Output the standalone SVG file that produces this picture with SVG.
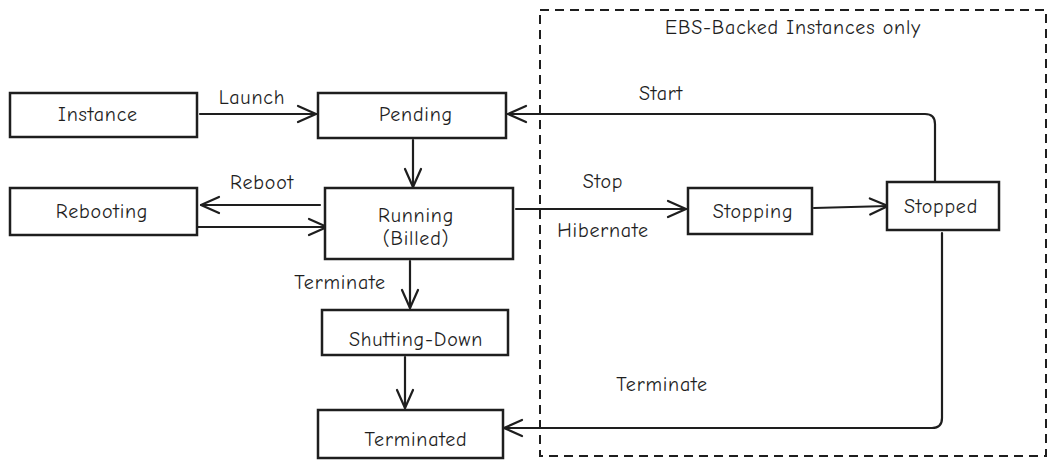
<svg xmlns="http://www.w3.org/2000/svg" width="1057" height="468" viewBox="0 0 1057 468">
<defs>
<style>
.node rect{fill:#fff;stroke:#1e1e1e;stroke-width:2.5}
text{font-family:"Comic Neue","Liberation Sans",sans-serif;font-size:20px;letter-spacing:0.8px;fill:#1e1e1e;text-anchor:middle;dominant-baseline:central}
.edge{fill:none;stroke:#1e1e1e;stroke-width:2.2;stroke-linecap:round;stroke-linejoin:round}
.frame{fill:none;stroke:#1e1e1e;stroke-width:2;stroke-dasharray:9 6}
</style>
<marker id="arr" viewBox="0 0 24 24" refX="22" refY="12" markerWidth="24" markerHeight="24" markerUnits="userSpaceOnUse" orient="auto">
<path d="M4,4 L22,12 L4,20" fill="none" stroke="#1e1e1e" stroke-width="2.2" stroke-linecap="round" stroke-linejoin="round"/>
</marker>
</defs>
<rect width="1057" height="468" fill="#fff"/>
<g id="frame">
<rect class="frame" x="540" y="10" width="506" height="446"/>
<text x="793" y="27">EBS-Backed Instances only</text>
</g>
<g id="connectors">
<path class="edge" d="M200,114 L316,114" marker-end="url(#arr)"/>
<text x="252" y="97">Launch</text>
<path class="edge" d="M413,140 L413,187" marker-end="url(#arr)"/>
<path class="edge" d="M320,205 L201,205" marker-end="url(#arr)"/>
<text x="262" y="182">Reboot</text>
<path class="edge" d="M198,227 L327,227" marker-end="url(#arr)"/>
<path class="edge" d="M516,209 L686,209" marker-end="url(#arr)"/>
<text x="603" y="181">Stop</text>
<text x="603" y="230">Hibernate</text>
<path class="edge" d="M814,208 L888,206" marker-end="url(#arr)"/>
<path class="edge" d="M935,181 L935,124 Q935,114 925,114 L508,114" marker-end="url(#arr)"/>
<text x="661" y="93">Start</text>
<path class="edge" d="M410,261 L410,308" marker-end="url(#arr)"/>
<text x="340" y="282">Terminate</text>
<path class="edge" d="M405,357 L405,408" marker-end="url(#arr)"/>
<path class="edge" d="M942,233 L942,418 Q942,428 932,428 L504,428" marker-end="url(#arr)"/>
<text x="662" y="384">Terminate</text>
</g>
<g id="instance" class="node"><rect x="10" y="93" width="187" height="44"/><text x="98" y="114">Instance</text></g>
<g id="pending" class="node"><rect x="318" y="93" width="188" height="45"/><text x="416" y="114">Pending</text></g>
<g id="rebooting" class="node"><rect x="10" y="188" width="187" height="47"/><text x="102" y="211">Rebooting</text></g>
<g id="running" class="node"><rect x="325" y="188" width="188" height="71"/><text x="416" y="215">Running</text><text x="416" y="238">(Billed)</text></g>
<g id="shutting-down" class="node"><rect x="322" y="310" width="186" height="45"/><text x="416" y="339">Shutting-Down</text></g>
<g id="terminated" class="node"><rect x="318" y="410" width="185" height="48"/><text x="416" y="439">Terminated</text></g>
<g id="stopping" class="node"><rect x="688" y="188" width="124" height="46"/><text x="753" y="211">Stopping</text></g>
<g id="stopped" class="node"><rect x="887" y="182" width="112" height="48"/><text x="941" y="206">Stopped</text></g>
</svg>
